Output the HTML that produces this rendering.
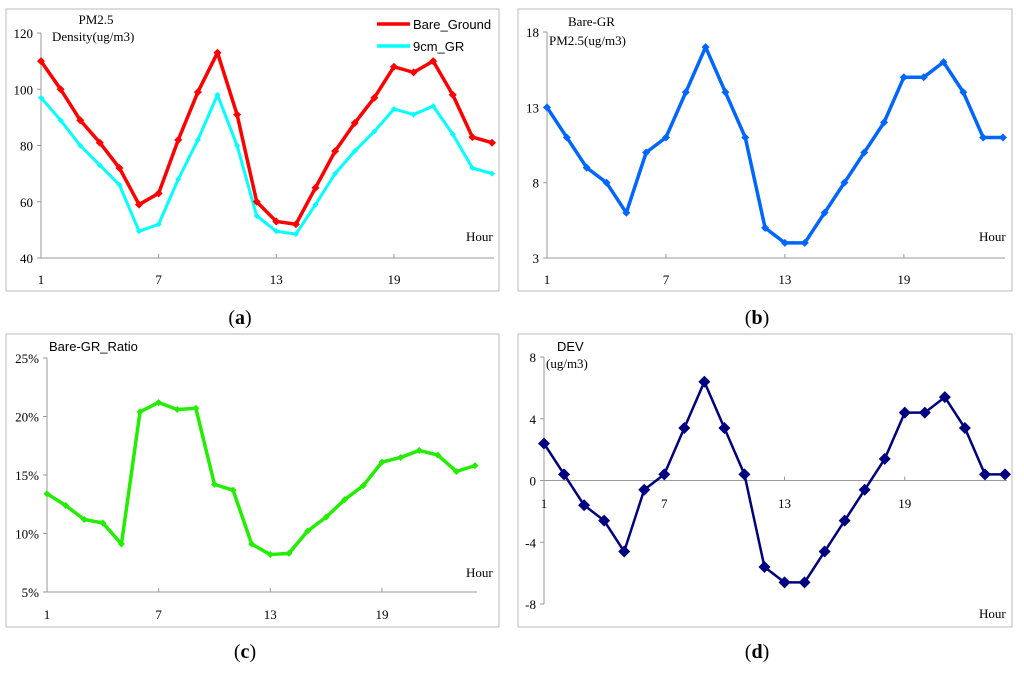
<!DOCTYPE html>
<html><head><meta charset="utf-8"><style>
body{margin:0;background:#fff;width:1024px;height:671px;overflow:hidden}
svg{font-family:"Liberation Serif",serif}
.ss{font-family:"Liberation Sans",sans-serif}
</style></head><body>
<svg id="s" width="1024" height="671" xmlns="http://www.w3.org/2000/svg">
<rect x="6" y="9" width="493" height="282" fill="none" stroke="#bbb"/>
<rect x="518" y="9" width="494" height="282" fill="none" stroke="#bbb"/>
<rect x="6" y="334" width="493" height="293" fill="none" stroke="#bbb"/>
<rect x="518" y="334" width="494" height="293" fill="none" stroke="#bbb"/>
<text x="240" y="324" font-size="20" text-anchor="middle">(<tspan font-weight="bold">a</tspan>)</text>
<text x="757" y="324" font-size="20" text-anchor="middle">(<tspan font-weight="bold">b</tspan>)</text>
<text x="245" y="658" font-size="20" text-anchor="middle">(<tspan font-weight="bold">c</tspan>)</text>
<text x="757" y="658" font-size="20" text-anchor="middle">(<tspan font-weight="bold">d</tspan>)</text>
<text x="96" y="24" font-size="13" text-anchor="middle">PM2.5</text>
<text x="52" y="41" font-size="13">Density(ug/m3)</text>
<line x1="377" y1="24" x2="410" y2="24" stroke="#f00" stroke-width="3.5"/>
<text x="413" y="29" font-size="13" class="ss">Bare_Ground</text>
<line x1="377" y1="46" x2="410" y2="46" stroke="#0ff" stroke-width="3.5"/>
<text x="413" y="51" font-size="13" class="ss">9cm_GR</text>
<text x="568" y="26" font-size="13">Bare-GR</text>
<text x="549" y="45" font-size="13">PM2.5(ug/m3)</text>
<text x="49" y="351" font-size="13" class="ss">Bare-GR_Ratio</text>
<text x="557" y="351" font-size="13" class="ss">DEV</text>
<text x="546" y="368" font-size="13">(ug/m3)</text>
</svg>
<script>
const hours=[1,2,3,4,5,6,7,8,9,10,11,12,13,14,15,16,17,18,19,20,21,22,23,24];
const xTicks=[1,7,13,19];
const bareGround=[110,100,89,81,72,59,63,82,99,113,91,60,53,52,65,78,88,97,108,106,110,98,83,81];
const gr9cm=[97,89,80,73,66,49.5,52,68,82,98,80,55,49.5,48.5,59,70,78,85,93,91,94,84,72,70];
const aYTicks=[40,60,80,100,120];
const bareMinusGR=[13,11,9,8,6,10,11,14,17,14,11,5,4,4,6,8,10,12,15,15,16,14,11,11];
const bYTicks=[3,8,13,18];
const ratio=[13.4,12.4,11.2,10.9,9.1,20.4,21.2,20.6,20.7,14.2,13.7,9.1,8.2,8.3,10.2,11.4,12.9,14.1,16.1,16.5,17.1,16.7,15.3,15.8];
const cYTicks=[5,10,15,20,25];
const dev=[2.4,0.4,-1.6,-2.6,-4.6,-0.6,0.4,3.4,6.4,3.4,0.4,-5.6,-6.6,-6.6,-4.6,-2.6,-0.6,1.4,4.4,4.4,5.4,3.4,0.4,0.4];
const dYTicks=[-8,-4,0,4,8];

const svg=document.getElementById('s');
const NS='http://www.w3.org/2000/svg';
function mk(tag,attrs,name,text){const e=document.createElementNS(NS,tag);for(const k in attrs)e.setAttribute(k,attrs[k]);


if(text!==undefined)e.textContent=text;svg.appendChild(e);return e;}
function panel(p){
 const X=h=>p.x0+(h-1)*(p.x1-p.x0)/23;
 const Y=v=>p.yb-(v-p.vmin)*(p.yb-p.yt)/(p.vmax-p.vmin);
 const ax=p.xAxisV===undefined?p.yb:Y(p.xAxisV);
 mk('line',{x1:p.x0,y1:p.yt,x2:p.x0,y2:p.yb,stroke:'#999'},p.id+'-y-axis');
 mk('line',{x1:p.x0,y1:ax,x2:X(24)+2,y2:ax,stroke:'#999'},p.id+'-x-axis');
 p.yTicks.forEach(v=>{mk('line',{x1:p.x0-4,y1:Y(v),x2:p.x0,y2:Y(v),stroke:'#999'},p.id+'-y-tick');
  mk('text',{x:p.x0-8,y:Y(v)+5,'font-size':13,'text-anchor':'end'},p.id+'-y-tick-label',v+(p.pct?'%':''));});
 xTicks.forEach(h=>{mk('line',{x1:X(h),y1:ax-4,x2:X(h),y2:ax,stroke:'#999'},p.id+'-x-tick');
  mk('text',{x:X(h),y:p.xly,'font-size':13,'text-anchor':'middle'},p.id+'-x-tick-label',h);});
 mk('text',{x:p.hx,y:p.hy,'font-size':13},p.id+'-x-title','Hour');
 p.series.forEach(s=>{
  mk('polyline',{points:s.v.map((v,i)=>X(hours[i])+','+Y(v)).join(' '),fill:'none',stroke:s.c,'stroke-width':s.w,'stroke-linejoin':'round'},s.n+'-line');
  s.v.forEach((v,i)=>{const cx=X(hours[i]),cy=Y(v),r=s.r;
   mk('polygon',{points:`${cx},${cy-r} ${cx+r},${cy} ${cx},${cy+r} ${cx-r},${cy}`,fill:s.c},s.n+'-point');});
 });
}
panel({id:'a',x0:41,x1:492,yt:33,yb:258,vmin:40,vmax:120,yTicks:aYTicks,xly:284,hx:466,hy:241,
 series:[{v:gr9cm,c:'#00ffff',w:3,r:3,n:'gr-9cm'},{v:bareGround,c:'#ff0000',w:3.5,r:4,n:'bare-ground'}]});
panel({id:'b',x0:547,x1:1003,yt:32,yb:258,vmin:3,vmax:18,yTicks:bYTicks,xly:284,hx:979,hy:241,
 series:[{v:bareMinusGR,c:'#0066ff',w:3.5,r:4,n:'bare-minus-gr'}]});
panel({id:'c',x0:47,x1:475,yt:358,yb:592,vmin:5,vmax:25,pct:true,yTicks:cYTicks,xly:619,hx:466,hy:577,
 series:[{v:ratio,c:'#22ee00',w:3.5,r:3.5,n:'ratio'}]});
panel({id:'d',x0:544,x1:1005,yt:357,yb:604,vmin:-8,vmax:8,xAxisV:0,yTicks:dYTicks,xly:508,hx:979,hy:618,
 series:[{v:dev,c:'#000080',w:2.5,r:6,n:'dev'}]});
</script>
</body></html>
